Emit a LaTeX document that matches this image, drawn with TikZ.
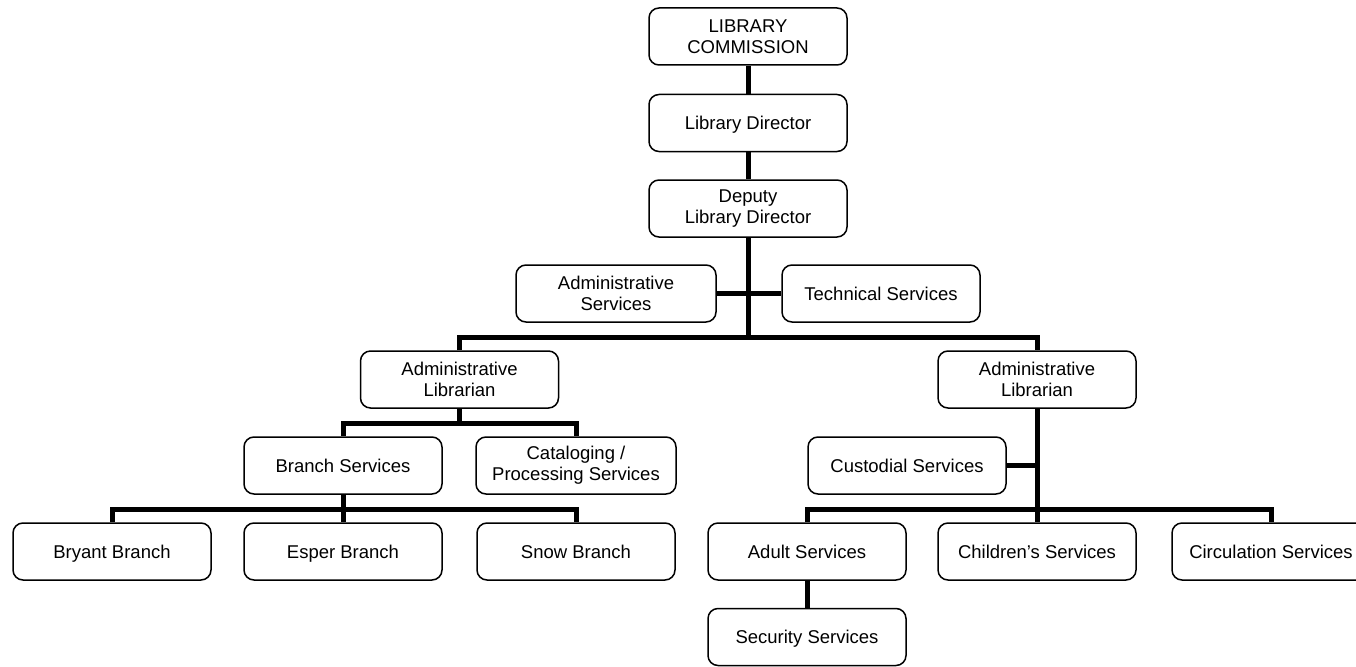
\documentclass[tikz,border=0pt]{standalone}
\usepackage{fontspec}
\setmainfont{Liberation Sans}
\begin{document}
\begin{tikzpicture}[x=1pt,y=-1pt,
  box/.style={draw=black,line width=1.5pt,rounded corners=10pt,fill=white,
    minimum width=198pt,minimum height=57pt,align=center,inner sep=2pt,
    font=\fontsize{18.5}{21}\selectfont},
  one/.style={box,text height=17pt,text depth=3.5pt},
  conn/.style={draw=black,line width=5pt,line join=miter}]
\useasboundingbox (0,0) rectangle (1356,666);
\coordinate (b1) at (748,337);
\coordinate (b2) at (459.5,423);
\coordinate (b3) at (343,509);
\coordinate (b4) at (1037,509);
\coordinate (hC) at (1037,465.5);
% nodes
\node[box] (comm) at (748,36.5) {LIBRARY\\COMMISSION};
\node[one] (dir) at (748,123) {Library Director};
\node[box] (dep) at (748,208.5) {Deputy\\Library Director};
\node[box,minimum width=200pt] (adms) at (616,293.5) {Administrative\\Services};
\node[one] (tech) at (881,293.5) {Technical Services};
\node[box] (alL) at (459.5,379.5) {Administrative\\Librarian};
\node[box] (alR) at (1037,379.5) {Administrative\\Librarian};
\node[one] (branch) at (343,465.5) {Branch Services};
\node[box,minimum width=200pt] (catal) at (576,465.5) {Cataloging /\\Processing Services};
\node[one] (cust) at (907,465.5) {Custodial Services};
\node[one] (bryant) at (112,551.5) {Bryant Branch};
\node[one] (esper) at (343,551.5) {Esper Branch};
\node[one] (snow) at (576,551.5) {Snow Branch};
\node[one] (adult) at (807,551.5) {Adult Services};
\node[one] (child) at (1037,551.5) {Children’s Services};
\node[one] (circ) at (1271,551.5) {Circulation Services};
\node[one] (sec) at (807,637) {Security Services};
% connectors
\draw[conn] (comm.south) -- (dir.north);
\draw[conn] (dir.south) -- (dep.north);
\draw[conn] (dep.south) -- (b1);
\draw[conn] (adms.east) -- (tech.west);
\draw[conn] (alL.north) |- (b1) -| (alR.north);
\draw[conn] (alL.south) -- (b2);
\draw[conn] (branch.north) |- (b2) -| (catal.north);
\draw[conn] (branch.south) -- (b3);
\draw[conn] (bryant.north) |- (b3) -| (snow.north);
\draw[conn] (b3) -- (esper.north);
\draw[conn] (alR.south) -- (b4);
\draw[conn] (cust.east) -- (hC);
\draw[conn] (adult.north) |- (b4) -| (circ.north);
\draw[conn] (b4) -- (child.north);
\draw[conn] (adult.south) -- (sec.north);
\end{tikzpicture}
\end{document}
